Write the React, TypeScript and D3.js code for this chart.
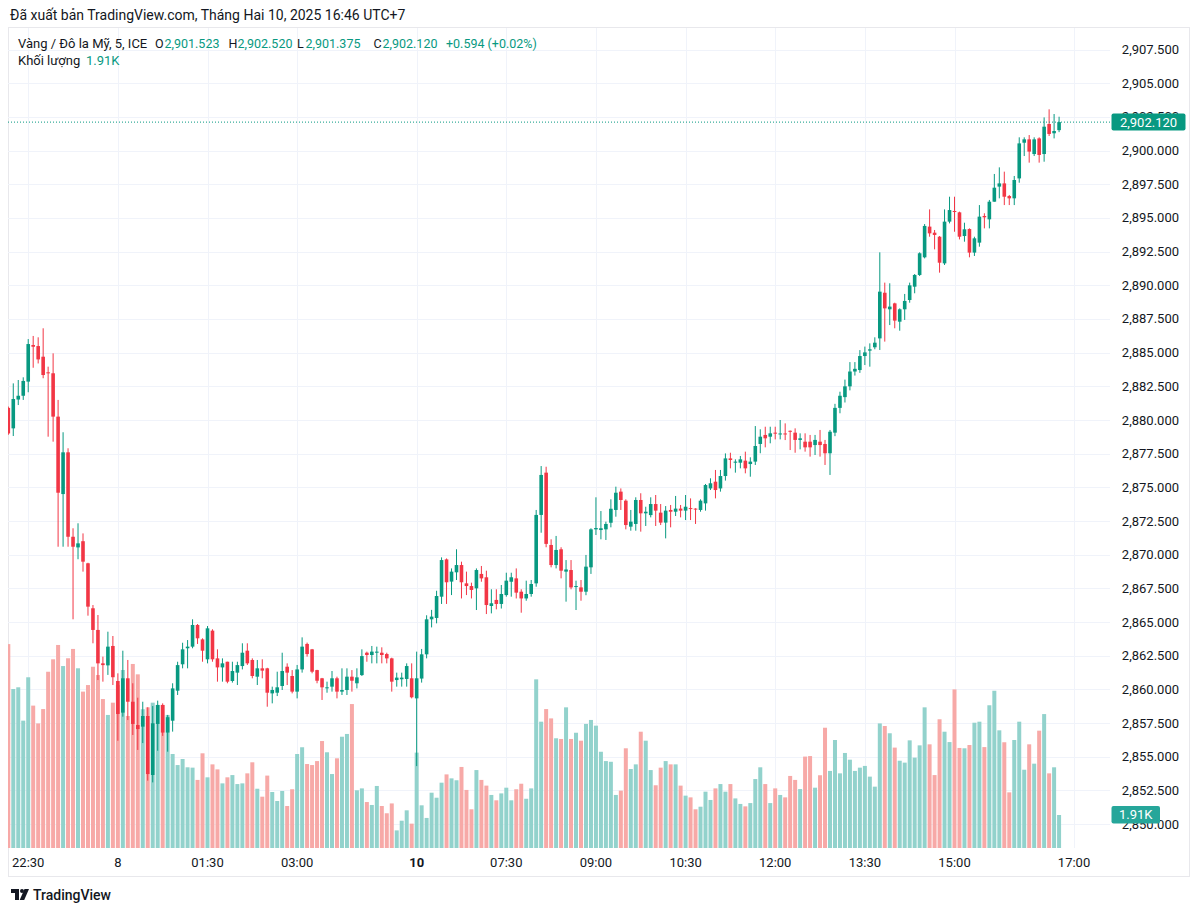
import React from "react";
import * as d3 from "d3";

const W = 1200;
const H = 913;

// OHLC per 5-minute bar (index 0 = partial bar at left edge)
const opens = [
  2880.9, 2879.38, 2881.52, 2881.8, 2882.85, 2885.57, 2885.49, 2884.7, 2883.54, 2883.47,
  2880.25, 2874.5, 2877.6, 2871.33, 2870.54, 2871.0, 2869.36, 2866.02, 2864.41, 2861.93,
  2861.78, 2863.22, 2860.62, 2858.27, 2860.82, 2859.08, 2857.35, 2857.23, 2858.02, 2853.64,
  2857.43, 2858.84, 2856.79, 2857.67, 2859.9, 2861.86, 2863.05, 2863.17, 2864.78, 2863.71,
  2862.23, 2864.36, 2862.3, 2861.63, 2862.05, 2860.62, 2861.24, 2861.73, 2862.87, 2862.18,
  2860.94, 2861.56, 2861.56, 2859.7, 2859.75, 2860.25, 2861.68, 2860.99, 2859.83, 2861.48,
  2863.37, 2862.97, 2861.43, 2860.82, 2860.1, 2860.2, 2860.82, 2859.83, 2859.95, 2860.94,
  2860.45, 2861.06, 2862.72, 2862.55, 2862.72, 2862.72, 2862.62, 2862.3, 2860.69, 2860.75,
  2860.77, 2860.82, 2859.33, 2860.8, 2862.6, 2865.2, 2865.3, 2866.88, 2869.65, 2868.0,
  2868.69, 2869.23, 2867.87, 2867.67, 2867.5, 2868.57, 2868.32, 2866.19, 2866.64, 2866.34,
  2867.0, 2867.99, 2868.24, 2867.25, 2866.75, 2867.08, 2867.87, 2872.95, 2876.09, 2870.72,
  2869.23, 2870.4, 2868.74, 2868.86, 2867.64, 2867.57, 2867.25, 2869.06, 2871.88, 2871.83,
  2871.88, 2872.37, 2873.32, 2874.68, 2874.01, 2872.08, 2872.28, 2874.06, 2873.07, 2872.94,
  2873.76, 2873.12, 2872.38, 2873.32, 2873.19, 2873.42, 2873.27, 2873.46, 2873.42, 2873.32,
  2873.81, 2874.92, 2875.42, 2874.92, 2875.84, 2877.15, 2876.83, 2876.83, 2876.98, 2876.73,
  2876.91, 2878.22, 2878.89, 2878.76, 2879.06, 2878.96, 2879.0, 2879.2, 2879.06, 2878.52,
  2878.39, 2878.39, 2878.14, 2878.39, 2878.22, 2877.53, 2879.06, 2880.9, 2881.7, 2882.5,
  2883.6, 2883.71, 2884.75, 2885.15, 2885.4, 2886.06, 2889.45, 2888.22, 2888.66, 2887.3,
  2888.22, 2888.91, 2889.9, 2890.77, 2892.08, 2894.36, 2893.91, 2893.61, 2891.63, 2894.73,
  2895.52, 2895.42, 2893.66, 2894.18, 2892.43, 2893.17, 2895.15, 2894.9, 2896.21, 2897.33,
  2897.57, 2896.63, 2896.46, 2897.94, 2900.59, 2900.84, 2899.75, 2900.91, 2899.75, 2901.98,
  2901.29, 2901.523,
];
const highs = [
  2881.0, 2882.72, 2882.97, 2883.17, 2886.01, 2886.24, 2886.14, 2886.81, 2883.96, 2884.95,
  2881.49, 2879.09, 2877.9, 2871.96, 2872.33, 2871.58, 2869.4, 2866.26, 2865.52, 2862.43,
  2864.28, 2863.96, 2861.19, 2862.87, 2862.18, 2860.45, 2859.38, 2859.08, 2858.67, 2858.76,
  2859.16, 2858.96, 2858.1, 2860.45, 2862.05, 2863.46, 2863.66, 2865.2, 2864.85, 2863.79,
  2864.7, 2864.46, 2862.97, 2862.3, 2862.05, 2862.05, 2862.05, 2863.42, 2863.42, 2862.3,
  2862.18, 2862.23, 2861.6, 2860.2, 2861.31, 2862.72, 2861.93, 2861.43, 2861.81, 2863.86,
  2863.47, 2863.0, 2861.45, 2860.85, 2860.57, 2861.36, 2860.94, 2861.56, 2861.56, 2861.43,
  2861.56, 2862.97, 2862.8, 2863.22, 2863.17, 2863.12, 2862.72, 2862.35, 2861.24, 2861.24,
  2861.93, 2861.93, 2862.8, 2863.0, 2865.5, 2865.9, 2867.32, 2869.8, 2869.72, 2868.98,
  2870.4, 2869.48, 2868.74, 2867.92, 2868.98, 2869.16, 2868.81, 2867.43, 2867.43, 2867.75,
  2868.66, 2868.66, 2868.98, 2867.43, 2868.07, 2868.12, 2873.32, 2876.58, 2876.53, 2871.14,
  2871.39, 2870.55, 2869.6, 2869.6, 2868.07, 2868.12, 2869.98, 2871.96, 2874.26, 2873.24,
  2872.45, 2874.11, 2875.05, 2874.92, 2874.11, 2873.32, 2874.26, 2874.56, 2873.56, 2874.26,
  2874.43, 2873.76, 2873.61, 2873.69, 2874.36, 2873.69, 2874.43, 2874.18, 2873.45, 2874.11,
  2875.25, 2875.67, 2876.29, 2876.29, 2877.52, 2877.57, 2877.08, 2877.33, 2877.65, 2877.23,
  2879.55, 2879.31, 2879.5, 2879.5, 2879.5, 2880.0, 2879.75, 2879.22, 2879.38, 2879.01,
  2879.01, 2878.89, 2878.89, 2879.26, 2878.52, 2879.26, 2881.2, 2882.1, 2883.0, 2884.3,
  2884.3, 2885.19, 2885.45, 2885.69, 2886.14, 2892.45, 2890.2, 2890.15, 2888.71, 2888.29,
  2889.36, 2890.2, 2890.84, 2892.45, 2894.55, 2895.64, 2894.11, 2893.66, 2895.64, 2896.58,
  2896.58, 2895.47, 2894.65, 2894.23, 2893.61, 2895.96, 2895.35, 2896.34, 2898.27, 2898.76,
  2898.44, 2896.71, 2898.12, 2900.99, 2900.99, 2901.16, 2900.99, 2900.99, 2902.47, 2903.07,
  2902.72, 2902.52,
];
const lows = [
  2878.9, 2878.81, 2881.11, 2881.49, 2882.06, 2883.88, 2884.2, 2883.1, 2878.76, 2878.39,
  2870.59, 2870.59, 2870.59, 2865.2, 2869.66, 2868.74, 2865.47, 2863.42, 2860.69, 2860.57,
  2861.07, 2860.32, 2856.18, 2857.97, 2857.72, 2856.61, 2855.5, 2856.01, 2853.22, 2853.09,
  2855.44, 2856.54, 2855.37, 2856.86, 2859.58, 2861.56, 2861.56, 2863.05, 2863.37, 2862.05,
  2861.93, 2862.05, 2860.57, 2860.57, 2860.45, 2860.5, 2860.32, 2861.48, 2861.81, 2860.82,
  2860.32, 2860.82, 2858.71, 2858.96, 2859.5, 2859.95, 2860.32, 2859.7, 2859.33, 2861.24,
  2862.43, 2861.19, 2860.45, 2859.21, 2859.75, 2859.83, 2859.33, 2859.58, 2859.58, 2859.83,
  2860.07, 2860.99, 2862.05, 2861.93, 2861.93, 2861.93, 2861.93, 2859.83, 2860.2, 2860.2,
  2860.2, 2859.33, 2854.3, 2860.5, 2862.3, 2864.6, 2864.9, 2866.34, 2866.34, 2867.0,
  2868.12, 2866.75, 2867.0, 2866.75, 2865.89, 2867.99, 2865.59, 2865.64, 2865.94, 2866.0,
  2866.88, 2866.88, 2866.75, 2865.69, 2866.58, 2866.88, 2867.62, 2871.63, 2870.55, 2869.06,
  2868.98, 2868.24, 2866.51, 2867.43, 2865.89, 2866.58, 2866.99, 2868.57, 2871.46, 2871.14,
  2871.09, 2872.03, 2872.82, 2873.32, 2871.88, 2871.78, 2871.78, 2871.71, 2872.13, 2872.77,
  2872.13, 2872.2, 2871.21, 2872.03, 2872.87, 2872.77, 2872.57, 2872.57, 2872.28, 2873.19,
  2873.27, 2874.8, 2874.18, 2874.68, 2875.5, 2876.41, 2876.09, 2876.41, 2876.04, 2875.79,
  2876.66, 2877.53, 2877.97, 2878.27, 2878.56, 2878.56, 2878.51, 2877.77, 2877.57, 2877.82,
  2877.65, 2877.28, 2877.4, 2877.28, 2876.66, 2875.92, 2878.8, 2880.5, 2881.3, 2882.2,
  2883.3, 2883.5, 2884.08, 2883.96, 2885.25, 2885.2, 2885.82, 2887.05, 2886.81, 2886.63,
  2887.43, 2888.71, 2889.41, 2890.69, 2892.0, 2893.61, 2892.67, 2890.94, 2891.51, 2894.6,
  2893.98, 2893.41, 2893.24, 2892.08, 2892.18, 2892.87, 2894.23, 2894.23, 2896.21, 2896.46,
  2895.96, 2895.96, 2895.96, 2897.62, 2899.6, 2899.11, 2899.6, 2899.11, 2899.18, 2901.09,
  2900.91, 2901.375,
];
const closes = [
  2879.0, 2881.56, 2881.8, 2882.9, 2885.64, 2885.44, 2884.5, 2883.34, 2883.47, 2880.25,
  2874.6, 2877.6, 2871.33, 2870.59, 2870.84, 2869.48, 2866.14, 2864.41, 2861.93, 2861.8,
  2863.17, 2860.9, 2858.17, 2860.82, 2859.08, 2857.43, 2857.05, 2858.02, 2853.71, 2857.48,
  2858.84, 2856.79, 2857.93, 2860.07, 2861.8, 2862.97, 2863.17, 2864.78, 2863.79, 2862.87,
  2864.53, 2862.23, 2861.63, 2861.93, 2860.57, 2861.36, 2861.8, 2862.72, 2861.93, 2860.99,
  2861.56, 2861.39, 2859.75, 2859.95, 2860.15, 2861.36, 2861.24, 2859.83, 2861.48, 2863.17,
  2862.62, 2861.31, 2860.64, 2860.15, 2860.15, 2860.82, 2859.83, 2859.95, 2860.94, 2860.64,
  2860.89, 2862.47, 2862.55, 2862.8, 2862.8, 2862.55, 2862.3, 2860.57, 2860.87, 2860.87,
  2861.73, 2859.41, 2860.82, 2862.6, 2865.2, 2865.4, 2866.93, 2869.6, 2867.95, 2868.74,
  2869.23, 2867.95, 2867.67, 2867.38, 2868.86, 2868.24, 2866.26, 2866.39, 2866.34, 2867.08,
  2868.07, 2868.32, 2867.18, 2866.75, 2867.08, 2867.82, 2872.95, 2875.92, 2870.8, 2869.23,
  2870.35, 2868.81, 2868.9, 2867.57, 2867.67, 2867.25, 2869.11, 2871.88, 2871.98, 2871.96,
  2872.28, 2873.41, 2874.6, 2874.06, 2872.2, 2872.45, 2874.06, 2873.07, 2873.19, 2873.76,
  2873.27, 2872.38, 2873.27, 2873.19, 2873.42, 2873.27, 2873.56, 2873.39, 2873.37, 2874.01,
  2875.17, 2875.3, 2874.8, 2875.84, 2877.15, 2877.03, 2876.91, 2877.08, 2876.41, 2876.91,
  2878.07, 2878.76, 2878.64, 2879.01, 2879.01, 2879.0, 2878.96, 2879.17, 2878.52, 2878.64,
  2877.97, 2877.97, 2878.52, 2878.14, 2877.53, 2879.13, 2880.9, 2881.8, 2882.5, 2883.6,
  2883.8, 2884.75, 2885.02, 2885.25, 2885.74, 2889.53, 2888.29, 2888.42, 2887.38, 2888.22,
  2888.84, 2890.0, 2890.77, 2892.38, 2894.41, 2893.86, 2893.74, 2891.68, 2894.73, 2895.59,
  2895.45, 2893.61, 2894.16, 2892.43, 2893.49, 2895.1, 2895.05, 2896.21, 2897.25, 2897.57,
  2896.58, 2896.46, 2897.82, 2900.54, 2900.84, 2899.93, 2900.84, 2899.68, 2901.78, 2901.24,
  2901.46, 2902.12,
];
// volume in thousands
const volumes = [
  11.8, 9.2, 9.3, 7.37, 9.88, 8.24, 7.21, 8.04, 10.2, 10.92,
  11.75, 10.53, 10.98, 11.52, 10.4, 9.05, 9.43, 10.49, 10.01, 8.62,
  7.7, 8.41, 9.43, 10.3, 7.64, 10.65, 10.05, 8.03, 8.14, 8.41,
  8.28, 8.28, 7.7, 5.44, 4.8, 5.15, 4.67, 4.65, 3.94, 5.48,
  4.09, 4.84, 4.55, 3.74, 4.09, 4.22, 3.7, 3.74, 4.32, 4.96,
  3.43, 2.97, 4.19, 3.24, 2.72, 3.3, 2.43, 3.4, 5.44, 5.83,
  4.86, 4.8, 5.03, 6.19, 5.54, 4.28, 5.19, 6.44, 6.6, 8.33,
  3.34, 3.45, 2.66, 2.49, 3.59, 2.43, 2.01, 2.58, 1.02, 1.58,
  2.18, 1.41, 5.52, 2.47, 1.74, 3.2, 2.91, 3.78, 4.26, 4.03,
  3.92, 4.69, 3.36, 2.24, 4.51, 3.94, 3.61, 3.07, 2.76, 3.16,
  3.49, 2.76, 3.4, 3.72, 2.85, 3.45, 9.76, 7.31, 8.04, 7.5,
  6.35, 6.31, 8.14, 6.31, 6.67, 6.21, 7.18, 7.41, 7.08, 5.57,
  5.03, 4.99, 3.07, 3.32, 5.77, 4.57, 4.84, 6.73, 6.21, 4.51,
  3.63, 4.65, 5.03, 4.84, 4.84, 3.61, 3.03, 2.93, 2.24, 2.39,
  3.26, 2.78, 3.45, 3.7, 3.26, 3.7, 2.87, 2.55, 2.41, 2.6,
  3.99, 4.67, 3.7, 2.6, 3.45, 3.07, 2.93, 4.17, 3.94, 3.41,
  5.29, 5.32, 3.49, 4.21, 6.96, 4.46, 6.25, 4.32, 5.5, 5.11,
  4.46, 4.65, 4.75, 4.13, 3.55, 7.21, 7.06, 6.64, 5.81, 5.05,
  4.94, 6.23, 5.23, 5.94, 8.14, 6.0, 4.22, 7.45, 6.73, 6.13,
  9.18, 5.79, 5.77, 5.96, 7.25, 7.31, 5.84, 8.26, 9.1, 6.81,
  6.12, 3.22, 6.25, 7.31, 4.53, 6.0, 4.88, 6.79, 7.75, 4.32,
  4.67, 1.91,
];

const priceTicks = d3.range(2850, 2907.5 + 0.001, 2.5);
const timeLabels = ["22:30", "8", "01:30", "03:00", "10", "07:30", "09:00", "10:30", "12:00", "13:30", "15:00", "17:00"];
const timeLabelIndex = [4, 22, 40, 58, 82, 100, 118, 136, 154, 172, 190, 214];

const lastPrice = 2902.12;
const lastVolume = 1.91;
const changeText = "+0.594 (+0.02%)";

const UP = "#089981";
const DOWN = "#F23645";
const VOL_UP = "#92d2cc";
const VOL_DOWN = "#f7a9a7";
const TEXT = "#131722";
const GRID = "#f0f3fa";
const FONT = "Roboto, 'Noto Sans', sans-serif";

const fmt = d3.format(",.3f");

export default function App() {
  const paneL = 8, paneR = 1110, paneT = 28, paneB = 848;
  const n = opens.length;
  const x = d3.scaleLinear().domain([0, n - 1]).range([8.3, 8.3 + (n - 1) * 4.98]);
  const y = d3.scaleLinear().domain([2880, 2900]).range([420, 150.66]);
  const yv = d3.scaleLinear().domain([0, 12]).range([paneB, paneB - 12 * 17.28]);
  const bodyW = 3.6;
  const volW = 4;
  const legY = 47.5;

  return (
    <svg
      width={W}
      height={H}
      viewBox={`0 0 ${W} ${H}`}
      style={{ display: "block", background: "#fff", position: "absolute", left: 0, top: 0 }}
      fontFamily={FONT}
    >
      <defs>
        <clipPath id="pane">
          <rect x={paneL} y={paneT} width={paneR - paneL} height={paneB - paneT} />
        </clipPath>
      </defs>
      <rect x={0} y={0} width={W} height={H} fill="#fff" />
      {/* frame */}
      <rect x={8.5} y={27.5} width={1181} height={849} fill="none" stroke="#e8e8ec" strokeWidth={1} />

      {/* header */}
      <text x={10} y={20} fontSize={14} fill={TEXT}>Đã xuất bản TradingView.com, Tháng Hai 10, 2025 16:46 UTC+7</text>

      <g clipPath="url(#pane)">
        {/* grid */}
        {priceTicks.map((p) => (
          <line key={"h" + p} x1={paneL} x2={paneR} y1={Math.round(y(p)) + 0.5} y2={Math.round(y(p)) + 0.5} stroke={GRID} strokeWidth={1} />
        ))}
        {timeLabelIndex.map((i) => (
          <line key={"v" + i} x1={Math.round(x(i)) + 0.5} x2={Math.round(x(i)) + 0.5} y1={paneT} y2={paneB} stroke={GRID} strokeWidth={1} />
        ))}
        {/* volume */}
        {volumes.map((v, i) => (
          <rect
            key={"vol" + i}
            x={x(i) - volW / 2}
            y={yv(v)}
            width={volW}
            height={paneB - yv(v)}
            fill={closes[i] >= opens[i] ? VOL_UP : VOL_DOWN}
          />
        ))}
        {/* candles */}
        {opens.map((o, i) => {
          const c = closes[i];
          const col = c >= o ? UP : DOWN;
          const top = y(Math.max(o, c));
          const bot = y(Math.min(o, c));
          const h = Math.max(1, bot - top);
          return (
            <g key={"c" + i}>
              <line x1={x(i)} x2={x(i)} y1={y(highs[i])} y2={y(lows[i])} stroke={col} strokeWidth={1} />
              <rect x={x(i) - bodyW / 2} y={top} width={bodyW} height={h} fill={col} />
            </g>
          );
        })}
        {/* last price line */}
        <line x1={paneL} x2={paneR} y1={y(lastPrice)} y2={y(lastPrice)} stroke={UP} strokeWidth={1} strokeDasharray="1,2" />
      </g>

      {/* price axis labels */}
      {priceTicks.map((p) => (
        <text key={"pl" + p} x={1179} y={y(p) + 4.5} fontSize={13} fill={TEXT} textAnchor="end">{fmt(p)}</text>
      ))}
      {/* last price box */}
      <rect x={1111.5} y={y(lastPrice) - 8.5} width={74} height={17} rx={2} fill={UP} />
      <text x={1148.5} y={y(lastPrice) + 4.5} fontSize={13} fill="#fff" textAnchor="middle">{fmt(lastPrice)}</text>
      {/* volume box */}
      <rect x={1111.5} y={yv(lastVolume) - 9} width={48.5} height={17.5} rx={2} fill="#26a69a" />
      <text x={1135.7} y={yv(lastVolume) + 4} fontSize={13} fill="#fff" textAnchor="middle">{lastVolume.toFixed(2) + "K"}</text>

      {/* time axis */}
      {timeLabels.map((t, k) => (
        <text
          key={"t" + k}
          x={x(timeLabelIndex[k])}
          y={866.5}
          fontSize={13}
          fill={TEXT}
          textAnchor="middle"
          fontWeight={t === "10" ? 700 : 400}
        >
          {t}
        </text>
      ))}

      {/* legend */}
      <g fontSize={12.5}>
        <text x={18} y={legY} fontSize={13} fill={TEXT}>Vàng / Đô la Mỹ, 5, ICE</text>
        <text x={155} y={legY} fill={TEXT}>O</text>
        <text x={164.5} y={legY} fill={UP}>{fmt(opens[n - 1])}</text>
        <text x={228.5} y={legY} fill={TEXT}>H</text>
        <text x={237.5} y={legY} fill={UP}>{fmt(highs[n - 1])}</text>
        <text x={297} y={legY} fill={TEXT}>L</text>
        <text x={305.5} y={legY} fill={UP}>{fmt(lows[n - 1])}</text>
        <text x={373.5} y={legY} fill={TEXT}>C</text>
        <text x={382.5} y={legY} fill={UP}>{fmt(closes[n - 1])}</text>
        <text x={446} y={legY} fill={UP}>{changeText}</text>
        <text x={18} y={64.5} fontSize={13} fill={TEXT}>Khối lượng</text>
        <text x={86} y={64.5} fontSize={13} fill={UP}>{lastVolume.toFixed(2) + "K"}</text>
      </g>

      {/* TradingView logo */}
      <g fill={TEXT}>
        <path d="M11 889 h8 v11 h-4 v-7 h-4 z" />
        <circle cx={22} cy={891} r={2} />
        <path d="M24.5 889 h4.5 l-4.8 11 h-4.5 z" />
      </g>
      <text x={33} y={900} fontSize={14} fill={TEXT} fontWeight={500}>TradingView</text>
    </svg>
  );
}
